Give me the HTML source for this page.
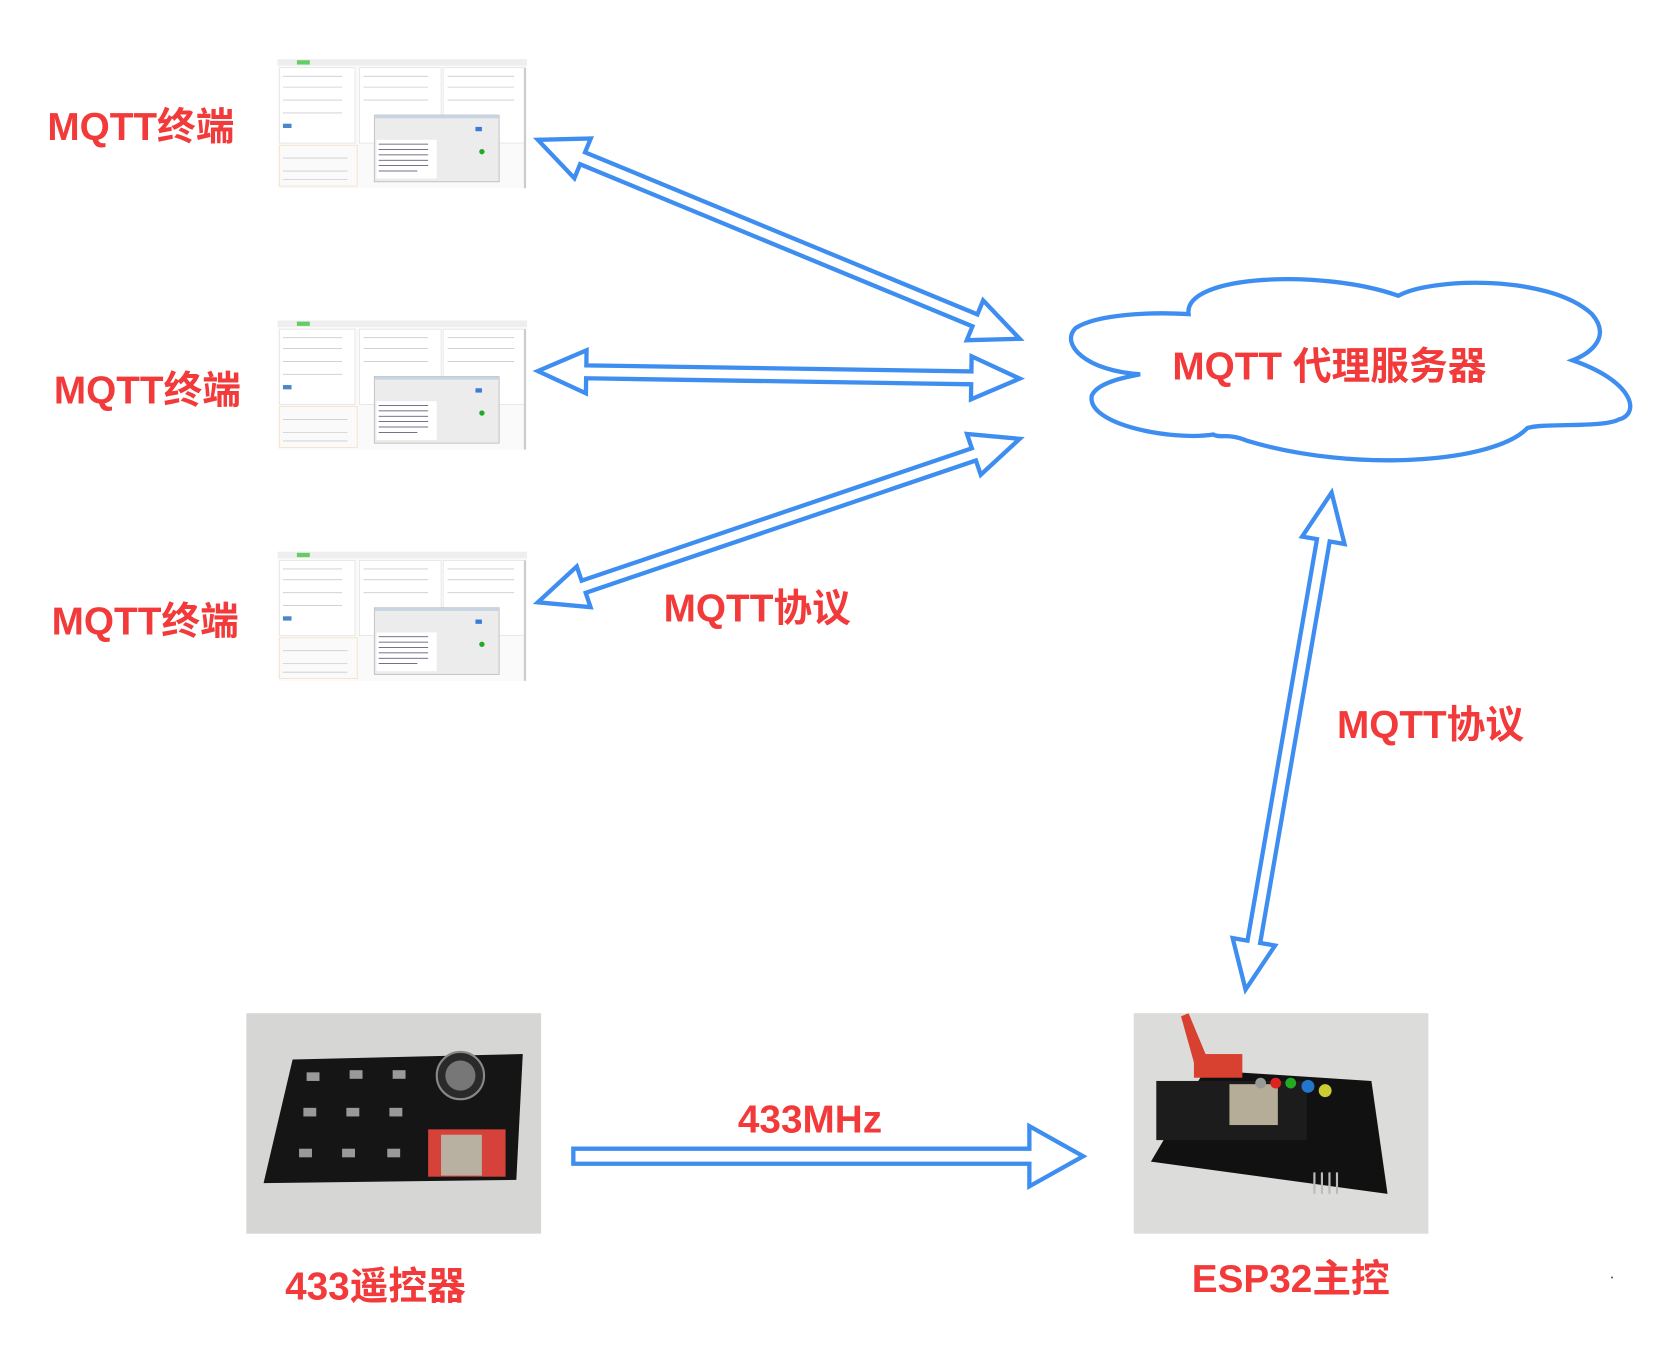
<!DOCTYPE html>
<html><head><meta charset="utf-8">
<style>
html,body{margin:0;padding:0;background:#fff;}
svg{display:block}
text{font-family:"Liberation Sans","Noto Sans CJK SC",sans-serif;font-weight:bold;fill:#f23a3a}
</style></head>
<body>
<svg id="s" width="1678" height="1372" viewBox="0 0 1560 1275.6" xmlns="http://www.w3.org/2000/svg">
<rect width="1560" height="1276" fill="#fff"/>
<defs>
<g id="shot">
  <rect x="0" y="0" width="232" height="120" fill="#fafafa"/>
  <rect x="0" y="0" width="232" height="6" fill="#eee"/>
  <rect x="18" y="1" width="12" height="4" fill="#6c6"/>
  <rect x="2" y="8" width="70" height="70" fill="#fff" stroke="#ddd" stroke-width="0.6"/>
  <rect x="76" y="8" width="76" height="70" fill="#fff" stroke="#ddd" stroke-width="0.6"/>
  <rect x="154" y="8" width="76" height="70" fill="#fff" stroke="#ddd" stroke-width="0.6"/>
  <g stroke="#ccc" stroke-width="0.8">
   <line x1="5" y1="16" x2="60" y2="16"/><line x1="5" y1="26" x2="60" y2="26"/><line x1="5" y1="38" x2="60" y2="38"/><line x1="5" y1="50" x2="60" y2="50"/>
   <line x1="80" y1="16" x2="140" y2="16"/><line x1="80" y1="26" x2="140" y2="26"/><line x1="80" y1="38" x2="140" y2="38"/>
   <line x1="158" y1="16" x2="220" y2="16"/><line x1="158" y1="26" x2="220" y2="26"/><line x1="158" y1="38" x2="220" y2="38"/>
   <line x1="5" y1="92" x2="65" y2="92"/><line x1="5" y1="104" x2="65" y2="104"/><line x1="5" y1="112" x2="65" y2="112"/>
  </g>
  <rect x="2" y="80" width="72" height="38" fill="none" stroke="#f5d7b0" stroke-width="0.6"/>
  <rect x="5" y="60" width="8" height="4" fill="#4a86c8"/>
  <rect x="90" y="52" width="116" height="62" fill="#ececec" stroke="#bbb" stroke-width="0.8"/>
  <rect x="90" y="52" width="116" height="3" fill="#c8d4e4"/>
  <rect x="92" y="75" width="56" height="36" fill="#fff"/>
  <g stroke="#446" stroke-width="0.7">
   <line x1="94" y1="79" x2="140" y2="79"/><line x1="94" y1="84" x2="140" y2="84"/><line x1="94" y1="89" x2="140" y2="89"/><line x1="94" y1="94" x2="140" y2="94"/><line x1="94" y1="99" x2="140" y2="99"/><line x1="94" y1="104" x2="130" y2="104"/>
  </g>
  <rect x="184" y="63" width="6" height="4" fill="#3a7ad8"/>
  <circle cx="190" cy="86" r="2.5" fill="#2a2"/>
  <rect x="229" y="8" width="2" height="112" fill="#ccc"/>
</g>
</defs>
<use href="#shot" x="258" y="55"/>
<use href="#shot" x="258" y="298"/>
<use href="#shot" x="258" y="513"/>

<text x="44" y="130" font-size="36">MQTT终端</text>
<text x="50" y="375" font-size="36">MQTT终端</text>
<text x="48" y="590" font-size="36">MQTT终端</text>

<!-- cloud -->
<path d="M1105,292 C1100,255 1230,250 1300,275 C1330,258 1440,255 1480,292 C1500,315 1475,330 1462,335 C1520,355 1525,385 1505,390 C1490,398 1435,393 1420,398 C1390,430 1260,440 1160,410 C1140,402 1135,408 1128,404 C1090,410 1010,395 1015,368 C1020,355 1050,350 1060,348 C1010,345 985,320 1000,305 C1020,292 1070,290 1105,292 Z" fill="#fff" stroke="#3d8ef0" stroke-width="4"/>
<text x="1090" y="353" font-size="36">MQTT  代理服务器</text>

<text x="617" y="578" font-size="36">MQTT协议</text>
<text x="1243" y="686" font-size="36">MQTT协议</text>

<g id="arrows" fill="#fff" stroke="#3d8ef0" stroke-width="4" stroke-linejoin="miter"></g>

<!-- 433 remote photo -->
<rect x="229" y="942" width="274" height="205" fill="#d6d6d4"/>
<polygon points="272,985 486,980 480,1097 245,1100" fill="#151515"/>
<circle cx="428" cy="1000" r="22" fill="#2a2a2a" stroke="#888" stroke-width="2"/>
<circle cx="428" cy="1000" r="14" fill="#777"/>
<rect x="398" y="1050" width="72" height="44" fill="#d6423a"/>
<rect x="410" y="1055" width="38" height="38" fill="#b8b0a0"/>
<g fill="#999">
<rect x="285" y="997" width="12" height="8"/><rect x="325" y="995" width="12" height="8"/><rect x="365" y="995" width="12" height="8"/>
<rect x="282" y="1030" width="12" height="8"/><rect x="322" y="1030" width="12" height="8"/><rect x="362" y="1030" width="12" height="8"/>
<rect x="278" y="1068" width="12" height="8"/><rect x="318" y="1068" width="12" height="8"/><rect x="360" y="1068" width="12" height="8"/>
</g>

<!-- ESP photo -->
<rect x="1054" y="942" width="274" height="205" fill="#dcdcda"/>
<polygon points="1120,995 1275,1005 1290,1110 1070,1080" fill="#111"/>
<rect x="1075" y="1005" width="140" height="55" fill="#1c1c1c"/>
<rect x="1143" y="1008" width="45" height="38" fill="#b5ad98"/>
<polygon points="1098,945 1105,942 1125,990 1112,995" fill="#d84030"/>
<rect x="1110" y="980" width="45" height="22" fill="#d84030"/>
<circle cx="1172" cy="1007" r="5" fill="#999"/><circle cx="1186" cy="1007" r="5" fill="#d22"/><circle cx="1200" cy="1007" r="5" fill="#2a2"/><circle cx="1216" cy="1010" r="6" fill="#27c"/><circle cx="1232" cy="1014" r="6" fill="#cc3"/>
<g stroke="#bbb" stroke-width="2"><line x1="1222" y1="1090" x2="1222" y2="1110"/><line x1="1229" y1="1090" x2="1229" y2="1110"/><line x1="1236" y1="1090" x2="1236" y2="1110"/><line x1="1243" y1="1090" x2="1243" y2="1110"/></g>

<text x="686" y="1053" font-size="36">433MHz</text>
<text x="265" y="1208" font-size="36">433遥控器</text>
<text x="1108" y="1201" font-size="36">ESP32主控</text>
<rect x="1498" y="1187" width="1.5" height="1.5" fill="#333"/>
</svg>
<script>
function arrow(x1,y1,x2,y2,dbl,w,hw,hl){
  var dx=x2-x1,dy=y2-y1,L=Math.hypot(dx,dy),ux=dx/L,uy=dy/L,nx=-uy,ny=ux;
  function p(t,o){return (x1+ux*t+nx*o).toFixed(1)+","+(y1+uy*t+ny*o).toFixed(1);}
  var pts=[];
  if(dbl){pts.push(p(0,0),p(hl,hw),p(hl,w));}else{pts.push(p(0,w));}
  pts.push(p(L-hl,w),p(L-hl,hw),p(L,0),p(L-hl,-hw),p(L-hl,-w));
  if(dbl){pts.push(p(hl,-w),p(hl,-hw));}else{pts.push(p(0,-w));}
  var e=document.createElementNS("http://www.w3.org/2000/svg","polygon");
  e.setAttribute("points",pts.join(" "));
  document.getElementById("arrows").appendChild(e);
}
arrow(500,130,948,315,true,6,20,45);
arrow(500,345,948,352,true,6,20,45);
arrow(500,560,948,408,true,6,20,45);
arrow(1238,458,1158,920,true,6,20,45);
arrow(533,1075,1007,1075,false,7,28,50);
</script>
</body></html>
